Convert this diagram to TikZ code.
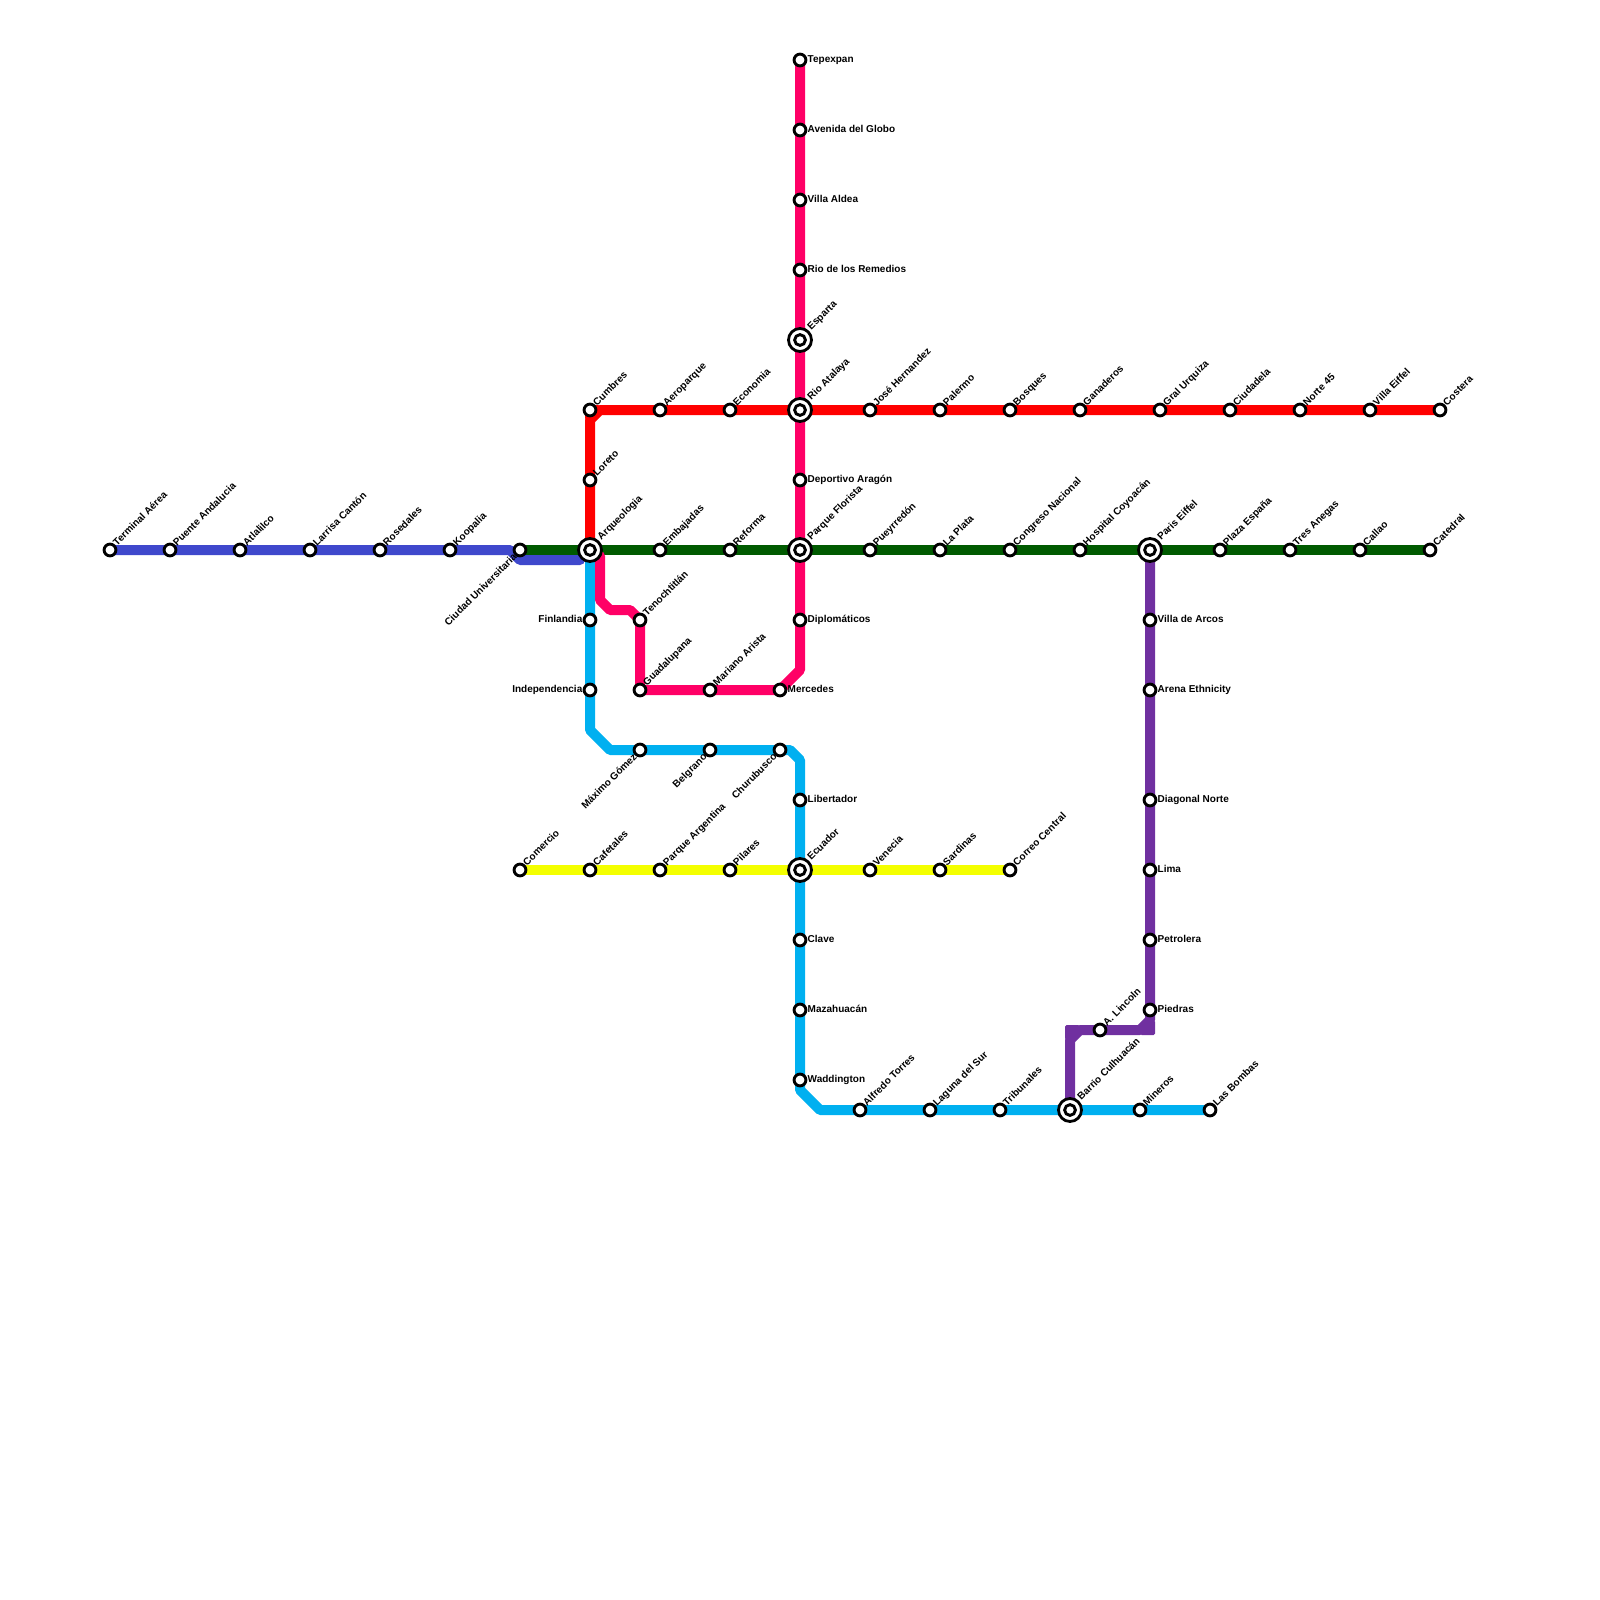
\documentclass[tikz,border=0pt]{standalone}
\usepackage{fontspec}
\setmainfont{Liberation Sans}
\usetikzlibrary{backgrounds}
\definecolor{lineindigo}{HTML}{3F48CC}
\definecolor{linegreen}{HTML}{005A00}
\definecolor{linered}{HTML}{FF0000}
\definecolor{linepink}{HTML}{FF0066}
\definecolor{lineblue}{HTML}{00B0F0}
\definecolor{lineyellow}{HTML}{F4FF00}
\definecolor{linepurple}{HTML}{7030A0}
\tikzset{
  metro/.style={line width=10pt, line cap=round, line join=round},
  stn/.style={circle, draw=black, fill=white, line width=2.9pt, minimum size=11.8pt, inner sep=0pt},
  bigstn/.style={circle, draw=black, fill=white, line width=2.8pt, minimum size=23pt, inner sep=0pt},
  lbl/.style={font=\bfseries\fontsize{10}{10}\selectfont, text=black, inner sep=0pt},
  lblne/.style={lbl, anchor=base west, rotate=45, shift={(7.5pt,-2.5pt)}},
  lblbig/.style={lbl, anchor=base west, rotate=45, shift={(14.5pt,-1.5pt)}},
  lblsw/.style={lbl, anchor=base east, rotate=45, shift={(-7pt,-3.5pt)}},
  lble/.style={lbl, anchor=base west, shift={(7.5pt,-2.5pt)}},
  lblw/.style={lbl, anchor=base east, shift={(-7.5pt,-2.5pt)}},
  cornerfill/.style={rounded corners=1.5pt},
}
\begin{document}
\begin{tikzpicture}[x=10pt,y=-10pt]
  \useasboundingbox (0,0) rectangle (160,160);
  % interchanges
  \foreach \id/\x/\y/\txt in {esparta/80/34/Esparta, rio/80/41/Rio Atalaya,
    arqueologia/59/55/Arqueologia, parque/80/55/Parque Florista, paris/115/55/Paris Eiffel,
    ecuador/80/87/Ecuador, barrio/107/111/Barrio Culhuacán} {
    \node[bigstn] (\id) at (\x,\y) {};
    \node[stn, minimum size=10.8pt] at (\id) {};
    \node[lblbig] at (\id) {\txt};
  }
  % labels up the diagonal
  \foreach \id/\x/\y/\txt in {terminal/11/55/Terminal Aérea, puente/17/55/Puente Andalucia,
    atlalilco/24/55/Atlalilco, larrisa/31/55/Larrisa Cantón, rosedales/38/55/Rosedales,
    koopalia/45/55/Koopalia, embajadas/66/55/Embajadas, reforma/73/55/Reforma,
    pueyrredon/87/55/Pueyrredón, laplata/94/55/La Plata, congreso/101/55/Congreso Nacional,
    hospital/108/55/Hospital Coyoacán, plaza/122/55/Plaza España, tres/129/55/Tres Anegas,
    callao/136/55/Callao, catedral/143/55/Catedral,
    cumbres/59/41/Cumbres, loreto/59/48/Loreto, aeroparque/66/41/Aeroparque,
    economia/73/41/Economia, jose/87/41/José Hernandez, palermo/94/41/Palermo,
    bosques/101/41/Bosques, ganaderos/108/41/Ganaderos, gral/116/41/Gral Urquiza,
    ciudadela/123/41/Ciudadela, norte/130/41/Norte 45, villaeiffel/137/41/Villa Eiffel,
    costera/144/41/Costera,
    tenochtitlan/64/62/Tenochtitlán, guadalupana/64/69/Guadalupana, mariano/71/69/Mariano Arista,
    comercio/52/87/Comercio, cafetales/59/87/Cafetales, argentina/66/87/Parque Argentina,
    pilares/73/87/Pilares, venecia/87/87/Venecia, sardinas/94/87/Sardinas,
    correo/101/87/Correo Central,
    alfredo/86/111/Alfredo Torres, laguna/93/111/Laguna del Sur, tribunales/100/111/Tribunales,
    mineros/114/111/Mineros, bombas/121/111/Las Bombas, lincoln/110/103/A. Lincoln} {
    \node[stn] (\id) at (\x,\y) {};
    \node[lblne] at (\id) {\txt};
  }
  % labels on the right
  \foreach \id/\x/\y/\txt in {tepexpan/80/6/Tepexpan, avenida/80/13/Avenida del Globo,
    aldea/80/20/Villa Aldea, remedios/80/27/Rio de los Remedios, deportivo/80/48/Deportivo Aragón,
    diplomaticos/80/62/Diplomáticos, mercedes/78/69/Mercedes, libertador/80/80/Libertador,
    clave/80/94/Clave, mazahuacan/80/101/Mazahuacán, waddington/80/108/Waddington,
    arcos/115/62/Villa de Arcos, arena/115/69/Arena Ethnicity, diagonal/115/80/Diagonal Norte,
    lima/115/87/Lima, petrolera/115/94/Petrolera, piedras/115/101/Piedras} {
    \node[stn] (\id) at (\x,\y) {};
    \node[lble] at (\id) {\txt};
  }
  % labels on the left
  \foreach \id/\x/\y/\txt in {finlandia/59/62/Finlandia, independencia/59/69/Independencia} {
    \node[stn] (\id) at (\x,\y) {};
    \node[lblw] at (\id) {\txt};
  }
  % labels down the diagonal
  \foreach \id/\x/\y/\txt in {ciudad/52/55/Ciudad Universitaria, maximo/64/75/Máximo Gómez,
    belgrano/71/75/Belgrano, churubusco/78/75/Churubusco} {
    \node[stn] (\id) at (\x,\y) {};
    \node[lblsw] at (\id) {\txt};
  }
  % bends of the lines
  \coordinate (redbend) at (59,42);
  \coordinate (redbendb) at (60,41);
  \coordinate (indigoa) at (52,56);
  \coordinate (indigob) at (58,56);
  \coordinate (pinka) at (60,55.6);
  \coordinate (pinkb) at (60,60);
  \coordinate (pinkc) at (61,61);
  \coordinate (pinkd) at (63,61);
  \coordinate (pinke) at (80,67);
  \coordinate (bluea) at (59,73);
  \coordinate (blueb) at (61,75);
  \coordinate (bluec) at (79,75);
  \coordinate (blued) at (80,76);
  \coordinate (bluee) at (80,109);
  \coordinate (bluef) at (82,111);
  \coordinate (purplea) at (115,102);
  \coordinate (purpleb) at (114,103);
  \coordinate (purpled) at (108,103);
  \coordinate (purplee) at (107,104);
  \begin{scope}[on background layer]
    \draw[metro, lineindigo] (terminal.center) -- (puente.center) -- (atlalilco.center) -- (larrisa.center)
      -- (rosedales.center) -- (koopalia.center) -- (51,55) -- (indigoa) -- (indigob);
    \draw[metro, linegreen] (ciudad.center) -- (arqueologia.center) -- (embajadas.center) -- (reforma.center)
      -- (parque.center) -- (pueyrredon.center) -- (laplata.center) -- (congreso.center) -- (hospital.center)
      -- (paris.center) -- (plaza.center) -- (tres.center) -- (callao.center) -- (catedral.center);
    \draw[metro, lineblue] (arqueologia.center) -- (finlandia.center) -- (independencia.center) -- (bluea)
      -- (blueb) -- (maximo.center) -- (belgrano.center) -- (churubusco.center) -- (bluec) -- (blued)
      -- (libertador.center) -- (ecuador.center) -- (clave.center) -- (mazahuacan.center)
      -- (waddington.center) -- (bluee) -- (bluef) -- (alfredo.center) -- (laguna.center)
      -- (tribunales.center) -- (barrio.center) -- (mineros.center) -- (bombas.center);
    \draw[metro, lineyellow] (comercio.center) -- (cafetales.center) -- (argentina.center) -- (pilares.center)
      -- (ecuador.center) -- (venecia.center) -- (sardinas.center) -- (correo.center);
    \draw[metro, linepurple] (paris.center) -- (arcos.center) -- (arena.center) -- (diagonal.center)
      -- (lima.center) -- (petrolera.center) -- (piedras.center) -- (purplea) -- (purpleb)
      -- (lincoln.center) -- (purpled) -- (purplee) -- (barrio.center);
    \fill[linepurple, cornerfill] (115.5,102) -- (115.5,103.5) -- (114,103.5) -- cycle;
    \fill[linepurple, cornerfill] (108,102.5) -- (106.5,102.5) -- (106.5,104) -- cycle;
    \draw[metro, linepink] (tepexpan.center) -- (avenida.center) -- (aldea.center) -- (remedios.center)
      -- (esparta.center) -- (rio.center) -- (deportivo.center) -- (parque.center) -- (diplomaticos.center)
      -- (pinke) -- (mercedes.center) -- (mariano.center) -- (guadalupana.center) -- (tenochtitlan.center)
      -- (pinkd) -- (pinkc) -- (pinkb) -- (pinka);
    \draw[metro, linered] (arqueologia.center) -- (loreto.center) -- (redbend) -- (redbendb)
      -- (aeroparque.center) -- (economia.center) -- (rio.center) -- (jose.center) -- (palermo.center)
      -- (bosques.center) -- (ganaderos.center) -- (gral.center) -- (ciudadela.center) -- (norte.center)
      -- (villaeiffel.center) -- (costera.center);
    \fill[linered, cornerfill] (60,40.5) -- (58.5,40.5) -- (58.5,42) -- cycle;
  \end{scope}
\end{tikzpicture}
\end{document}
